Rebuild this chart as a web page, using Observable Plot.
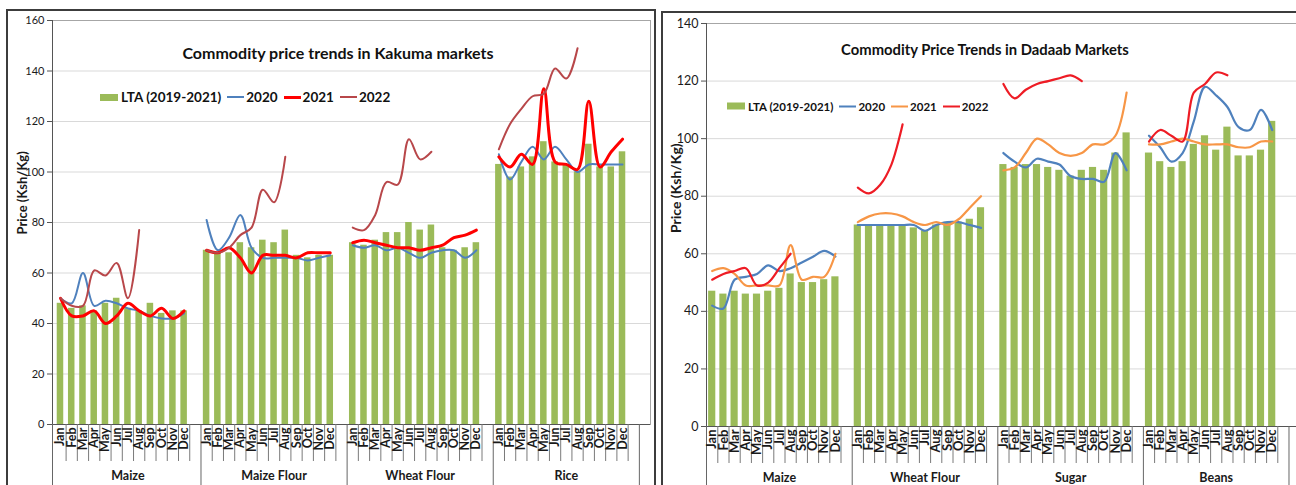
<!DOCTYPE html>
<html><head><meta charset="utf-8">
<script src="https://cdn.jsdelivr.net/npm/d3@7"></script>
<script src="https://cdn.jsdelivr.net/npm/@observablehq/plot@0.6"></script>
<style>
html,body{margin:0;padding:0;background:#fff;}
body{width:1296px;height:485px;overflow:hidden;position:relative;font-family:Lato,"Open Sans",sans-serif;}
.panel{position:absolute;top:0;height:485px;}
.border{position:absolute;border:2px solid #3c3c3c;box-sizing:border-box;pointer-events:none;}
.title{position:absolute;transform:translate(-50%,-50%);font-weight:bold;white-space:nowrap;color:#111;}
.legend{position:absolute;display:flex;align-items:center;font-weight:bold;white-space:nowrap;color:#111;transform:translateY(-50%);}
.sw{display:inline-block;}
</style></head><body>
<div id="left" class="panel" style="left:0;width:656px"></div>
<div id="right" class="panel" style="left:656px;width:640px"></div>
<div class="border" style="left:6px;top:9px;width:650px;height:500px"></div>
<div class="border" style="left:661px;top:11px;width:650px;height:500px"></div>
<div class="title" style="left:338px;top:52px;font-size:16px">Commodity price trends in Kakuma markets</div>
<div class="title" style="left:985px;top:49px;font-size:14.8px">Commodity Price Trends in Dadaab Markets</div>
<div id="legL" class="legend" style="left:100px;top:97px;font-size:13.5px"></div>
<div id="legR" class="legend" style="left:727px;top:106px;font-size:11.5px"></div>
<script>
const months = ["Jan","Feb","Mar","Apr","May","Jun","Jul","Aug","Sep","Oct","Nov","Dec"];
const seriesNames = ["LTA (2019-2021)", "2020", "2021", "2022"];
const yTicksKakuma = [0, 20, 40, 60, 80, 100, 120, 140, 160];
const yTicksDadaab = [0, 20, 40, 60, 80, 100, 120, 140];

const kakumaGroups = ["Maize", "Maize Flour", "Wheat Flour", "Rice"];
const kakumaLTA = [
  [48, 46, 47, 45, 48, 50, 46, 45, 48, 44, 45, 45],
  [69, 68, 68, 72, 70, 73, 72, 77, 67, 66, 67, 67],
  [72, 71, 73, 76, 76, 80, 77, 79, 70, 69, 70, 72],
  [103, 98, 102, 106, 112, 104, 103, 100, 111, 102, 102, 108]
];
const kakuma2020 = [
  [50, 48, 60, 47, 49, 48, 46, 45, 43, 42, 42, 44],
  [81, 69, 74, 83, 70, 66, 66, 66, 66, 65, 66, 67],
  [71, 70, 71, 69, 70, 68, 66, 68, 69, 69, 66, 69],
  [107, 97, 104, 110, 105, 110, 105, 100, 103, 103, 103, 103]
];
const kakuma2021 = [
  [50, 43, 43, 45, 40, 43, 48, 45, 43, 46, 42, 45],
  [69, 68, 70, 66, 60, 67, 67, 67, 66, 68, 68, 68],
  [72, 73, 72, 71, 70, 70, 69, 70, 71, 74, 75, 77],
  [106, 102, 107, 103, 133, 104, 103, 101, 128, 102, 108, 113]
];
const kakuma2022 = [
  [50, 47, 47, 61, 59, 64, 50, 77],
  [69, 68, 70, 75, 78, 93, 88, 106],
  [78, 77, 83, 96, 95, 113, 105, 108],
  [109, 119, 125, 130, 131, 141, 137, 149]
];

const dadaabGroups = ["Maize", "Wheat Flour", "Sugar", "Beans"];
const dadaabLTA = [
  [47, 46, 47, 46, 46, 47, 48, 53, 50, 50, 51, 52],
  [70, 70, 70, 70, 70, 69, 68, 70, 71, 71, 72, 76],
  [91, 90, 91, 91, 90, 89, 87, 89, 90, 89, 95, 102],
  [95, 92, 90, 92, 98, 101, 96, 104, 94, 94, 96, 106]
];
const dadaab2020 = [
  [42, 41, 51, 52, 53, 56, 54, 55, 57, 59, 61, 59],
  [70, 70, 70, 70, 70, 70, 68, 70, 71, 71, 70, 69],
  [95, 92, 90, 93, 92, 91, 87, 86, 86, 85, 95, 89],
  [101, 97, 92, 95, 106, 118, 115, 111, 104, 103, 110, 103]
];
const dadaab2021 = [
  [54, 55, 53, 49, 49, 49, 49, 63, 51, 52, 52, 60],
  [71, 73, 74, 74, 73, 71, 70, 71, 70, 72, 76, 80],
  [89, 90, 95, 100, 98, 95, 94, 95, 98, 98, 101, 116],
  [98, 98, 99, 100, 99, 98, 98, 98, 97, 97, 99, 99]
];
const dadaab2022 = [
  [51, 53, 54, 55, 49, 50, 55, 60],
  [83, 81, 84, 91, 105],
  [119, 114, 117, 119, 120, 121, 122, 120],
  [99, 103, 101, 99, 116, 119, 123, 122]
];

const SLOTS = 13; // 12 months + one blank category per commodity block
const green = "#9bbb59";

function rows(groups, series) {
  const out = [];
  series.forEach((arr, g) => arr.forEach((v, m) => out.push({g: groups[g], i: g * SLOTS + m, v})));
  return out;
}

function drawPanel(cfg) {
  const {el, width, marginLeft, marginRight, marginTop, marginBottom, yTicks, xDomain, groups,
         lta, lines, tickFont, monthFont, groupFont, labelFont, barHalf, labelDy} = cfg;
  const n = groups.length;
  const monthTicks = [], monthBounds = [], groupCenters = [];
  const groupBounds = [xDomain[0]];
  for (let g = 0; g < n; g++) {
    for (let m = 0; m < 12; m++) { monthTicks.push(g * SLOTS + m); monthBounds.push(g * SLOTS + m + 0.5); }
    groupCenters.push(g * SLOTS + 6);
    groupBounds.push((g + 1) * SLOTS - 0.5);
  }
  const ltaRows = rows(groups, lta);
  const marks = [
    Plot.ruleY(yTicks.slice(1, -1), {stroke: "#d9d9d9"}),
    Plot.rectY(ltaRows, {x1: d => d.i - barHalf, x2: d => d.i + barHalf, y: "v", fill: green}),
    ...lines.map(s => Plot.line(rows(groups, s.data), {x: "i", y: "v", z: "g", stroke: s.color, strokeWidth: s.width, curve: "catmull-rom"})),
    Plot.frame({stroke: "#a6a6a6"}),
    Plot.ruleX([xDomain[0]], {stroke: "#555"}),
    Plot.ruleY([0], {stroke: "#555"}),
    Plot.axisY(yTicks, {tickSize: 5, tickPadding: 3, fontSize: tickFont, label: null, stroke: "#555"}),
    Plot.axisX(monthBounds, {tickSize: 37, tickFormat: () => "", stroke: "#7a7a7a", label: null}),
    Plot.axisX(groupBounds, {tickSize: 80, tickFormat: () => "", stroke: "#666", label: null}),
    Plot.axisX(monthTicks, {tickSize: 0, tickPadding: 3, tickRotate: -90, tickFormat: i => months[i % SLOTS], fontSize: monthFont, fontWeight: "bold", label: null}),
    Plot.axisX(groupCenters, {tickSize: 0, tickPadding: 47, tickFormat: i => groups[Math.round((i - 6) / SLOTS)], fontSize: groupFont, fontWeight: "bold", label: null}),
    Plot.text(["Price (Ksh/Kg)"], {text: d => d, frameAnchor: "left", rotate: -90, dx: -30, dy: labelDy, fontWeight: "bold", fontSize: labelFont})
  ];
  const chart = Plot.plot({
    width, height: 485, marginLeft, marginRight, marginTop, marginBottom,
    style: {fontFamily: "Lato, 'Open Sans', sans-serif", color: "#1a1a1a", background: "transparent"},
    x: {type: "linear", domain: xDomain},
    y: {domain: [yTicks[0], yTicks[yTicks.length - 1]]},
    marks
  });
  document.getElementById(el).appendChild(chart);
}

drawPanel({
  el: "left", width: 656, marginLeft: 52, marginRight: 6, marginTop: 20, marginBottom: 61,
  yTicks: yTicksKakuma, xDomain: [-0.71, 52.49], groups: kakumaGroups, lta: kakumaLTA,
  lines: [
    {data: kakuma2020, color: "#4f81bd", width: 2},
    {data: kakuma2021, color: "#ff0000", width: 3},
    {data: kakuma2022, color: "#b8474a", width: 2}
  ],
  tickFont: 11, monthFont: 12.5, groupFont: 12.5, labelFont: 13, barHalf: 0.29, labelDy: 12
});
drawPanel({
  el: "right", width: 640, marginLeft: 50, marginRight: 0, marginTop: 23, marginBottom: 59,
  yTicks: yTicksDadaab, xDomain: [-0.51, 52.17], groups: dadaabGroups, lta: dadaabLTA,
  lines: [
    {data: dadaab2020, color: "#4f81bd", width: 2.2},
    {data: dadaab2021, color: "#f79646", width: 2.2},
    {data: dadaab2022, color: "#ee1c25", width: 2.2}
  ],
  tickFont: 12.5, monthFont: 13, groupFont: 12.5, labelFont: 14, barHalf: 0.32, labelDy: 8
});

function legend(id, items) {
  const box = document.getElementById(id);
  items.forEach((it, k) => {
    const sw = document.createElement("span");
    sw.className = "sw";
    if (it.bar) { sw.style.cssText = `width:18px;height:7px;background:${it.color};margin-right:3px;`; }
    else { sw.style.cssText = `width:17px;height:${it.w}px;background:${it.color};margin-left:${k ? 6 : 0}px;margin-right:2px;`; }
    const t = document.createElement("span");
    t.textContent = it.name;
    box.appendChild(sw); box.appendChild(t);
  });
}
legend("legL", [
  {name: seriesNames[0], color: green, bar: true},
  {name: seriesNames[1], color: "#4f81bd", w: 2},
  {name: seriesNames[2], color: "#ff0000", w: 3},
  {name: seriesNames[3], color: "#b8474a", w: 2}
]);
legend("legR", [
  {name: seriesNames[0], color: green, bar: true},
  {name: seriesNames[1], color: "#4f81bd", w: 2},
  {name: seriesNames[2], color: "#f79646", w: 2},
  {name: seriesNames[3], color: "#ee1c25", w: 2}
]);
</script>
</body></html>
